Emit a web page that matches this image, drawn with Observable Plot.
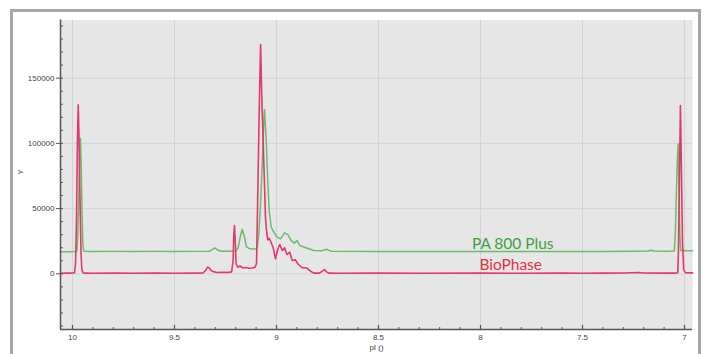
<!DOCTYPE html>
<html><head><meta charset="utf-8">
<script src="https://cdn.jsdelivr.net/npm/d3@7"></script>
<script src="https://cdn.jsdelivr.net/npm/@observablehq/plot@0.6"></script>
<style>
html,body{margin:0;padding:0;background:#fff;width:709px;height:354px;overflow:hidden;position:relative}
#chart{position:absolute;left:0;top:0}
#frame{position:absolute;left:10px;top:9px;width:685px;height:400px;border:3px solid #a7a7a7;pointer-events:none}
</style></head><body>
<div id="chart"></div><div id="frame"></div>
<script>
// ---- data ----
const seriesNames = ["PA 800 Plus", "BioPhase"];
const seriesColors = ["#6cbb6c", "#e2386c"];
const labelColors = ["#3e9f3e", "#e2333f"];

const paX = [10.06, 10.02, 9.99, 9.978, 9.974, 9.969, 9.965, 9.961, 9.957, 9.953, 9.949, 9.945, 9.94, 9.9, 9.8, 9.7, 9.6, 9.5, 9.4, 9.33, 9.315, 9.302, 9.29, 9.27, 9.23, 9.2, 9.188, 9.178, 9.168, 9.158, 9.148, 9.135, 9.12, 9.105, 9.095, 9.087, 9.078, 9.07, 9.062, 9.059, 9.054, 9.049, 9.043, 9.036, 9.026, 9.013, 8.997, 8.98, 8.961, 8.944, 8.928, 8.912, 8.899, 8.886, 8.863, 8.842, 8.817, 8.78, 8.755, 8.744, 8.73, 8.7, 8.5, 8.3, 8.0, 7.8, 7.6, 7.4, 7.25, 7.18, 7.163, 7.15, 7.1, 7.05, 7.045, 7.04, 7.035, 7.031, 7.027, 7.023, 7.019, 7.01, 6.96];
const paY = [16900, 17000, 17100, 17200, 30000, 60000, 90000, 104000, 80000, 45000, 22000, 17500, 17200, 17100, 17200, 17100, 17200, 17100, 17200, 17300, 18500, 19900, 18300, 17300, 17300, 17400, 20000, 28000, 34000, 29000, 21000, 19500, 19000, 19200, 19500, 30000, 54000, 84400, 117500, 126000, 112400, 97100, 71500, 48500, 35700, 31900, 28100, 26800, 31400, 30100, 25500, 23500, 25500, 21700, 20400, 19200, 17900, 17600, 18800, 18000, 17300, 17200, 17100, 17200, 17100, 17200, 17100, 17200, 17300, 17500, 18000, 17500, 17300, 17500, 30000, 60000, 88000, 99700, 65000, 30000, 18000, 17700, 17700];

const bpX = [10.06, 10.02, 9.995, 9.99, 9.985, 9.98, 9.976, 9.972, 9.968, 9.963, 9.958, 9.954, 9.948, 9.94, 9.9, 9.8, 9.7, 9.6, 9.5, 9.4, 9.36, 9.348, 9.338, 9.332, 9.32, 9.307, 9.29, 9.26, 9.24, 9.22, 9.213, 9.209, 9.206, 9.202, 9.198, 9.19, 9.178, 9.165, 9.15, 9.135, 9.12, 9.105, 9.098, 9.092, 9.085, 9.078, 9.072, 9.062, 9.054, 9.049, 9.043, 9.036, 9.029, 9.017, 9.005, 8.993, 8.984, 8.972, 8.961, 8.948, 8.935, 8.923, 8.907, 8.896, 8.874, 8.853, 8.833, 8.817, 8.79, 8.775, 8.765, 8.755, 8.744, 8.7, 8.5, 8.3, 8.0, 7.8, 7.6, 7.5, 7.4, 7.3, 7.22, 7.2, 7.1, 7.045, 7.033, 7.03, 7.025, 7.02, 7.015, 7.01, 7.004, 6.995, 6.96];
const bpY = [400, 500, 600, 800, 8000, 45000, 100000, 129500, 105000, 55000, 15000, 3000, 800, 500, 400, 500, 400, 500, 400, 500, 600, 2500, 5100, 4800, 2500, 1500, 1000, 1200, 1000, 1500, 10000, 30000, 37000, 25000, 7700, 5000, 6000, 4500, 4800, 4200, 4500, 5000, 7700, 58700, 122700, 175800, 135400, 84400, 43400, 33200, 26000, 27200, 25000, 20400, 11500, 19200, 22500, 17900, 19900, 14800, 16600, 10200, 10700, 7700, 4600, 4600, 2000, 500, 500, 2000, 3300, 1500, 500, 400, 500, 400, 500, 400, 500, 400, 500, 600, 1000, 600, 500, 500, 800, 15000, 70000, 129000, 80000, 25000, 3000, 900, 700];

const labelX = [7.842, 7.852];
const labelY = [22500, 6400];

const xTicks = [10, 9.5, 9, 8.5, 8, 7.5, 7];
const xMinorTicks = d3.range(70, 101).map(d => d / 10);
const yTicks = [0, 50000, 100000, 150000];
const yMinorTicks = d3.range(-4, 20).map(d => d * 10000);
const xDomain = [10.0588, 6.9608];
const yDomain = [-42700, 194600];
const xLabel = "pI ()";
const yLabel = "Y";

// ---- build ----
const pa = paX.map((x, i) => ({x, y: paY[i]}));
const bp = bpX.map((x, i) => ({x, y: bpY[i]}));
const labels = seriesNames.map((name, i) => ({name, x: labelX[i], y: labelY[i], color: labelColors[i]}));

const W = 709, H = 354, mL = 60, mR = 17, mT = 19.5, mB = 25;
const fw = W - mL - mR, fh = H - mT - mB;
const axisColor = "#555";

const chart = Plot.plot({
  width: W, height: H,
  marginLeft: mL, marginRight: mR, marginTop: mT, marginBottom: mB,
  style: {fontFamily: "'Liberation Sans', Arial, sans-serif", background: "transparent", color: "#444"},
  x: {domain: xDomain, axis: null},
  y: {domain: yDomain, axis: null},
  marks: [
    Plot.frame({fill: "#e6e6e6", stroke: null}),
    Plot.gridX(xTicks, {stroke: "#d3d3d3", strokeOpacity: 1, strokeWidth: 1}),
    Plot.gridY(yTicks, {stroke: "#d3d3d3", strokeOpacity: 1, strokeWidth: 1}),
    Plot.line(pa, {x: "x", y: "y", stroke: seriesColors[0], strokeWidth: 1.5}),
    Plot.line(bp, {x: "x", y: "y", stroke: seriesColors[1], strokeWidth: 1.6}),
    Plot.ruleX([xDomain[0]], {stroke: axisColor, strokeWidth: 1.5}),
    Plot.ruleY([yDomain[0]], {stroke: axisColor, strokeWidth: 1.5}),
    Plot.tickX(xTicks, {x: d => d, stroke: axisColor, insetTop: fh - 4, strokeWidth: 1.2}),
    Plot.tickX(xMinorTicks, {x: d => d, stroke: axisColor, insetTop: fh - 2, strokeWidth: 1}),
    Plot.tickY(yMinorTicks, {y: d => d, stroke: axisColor, insetRight: fw - 3, strokeWidth: 1}),
    Plot.axisY(yTicks, {tickSize: 4, tickPadding: 2, fontSize: 8, stroke: axisColor, fill: "#444", tickFormat: d3.format("d"), label: null}),
    Plot.axisX(xTicks, {tickSize: 0, tickPadding: 5, fontSize: 8, fill: "#444", tickFormat: d => String(d), label: null}),
    Plot.text([yLabel], {frameAnchor: "left", dx: -40, rotate: -90, fontSize: 8, fill: "#444"}),
    Plot.text([xLabel], {frameAnchor: "bottom", dy: 20, fontSize: 8, fill: "#444"}),
    Plot.text(labels, {x: "x", y: "y", text: "name", fill: "color", fontSize: 15.5, fontFamily: "Lato, 'Open Sans', sans-serif", textAnchor: "middle", lineAnchor: "middle"})
  ]
});
document.getElementById("chart").append(chart);
</script>
</body></html>
